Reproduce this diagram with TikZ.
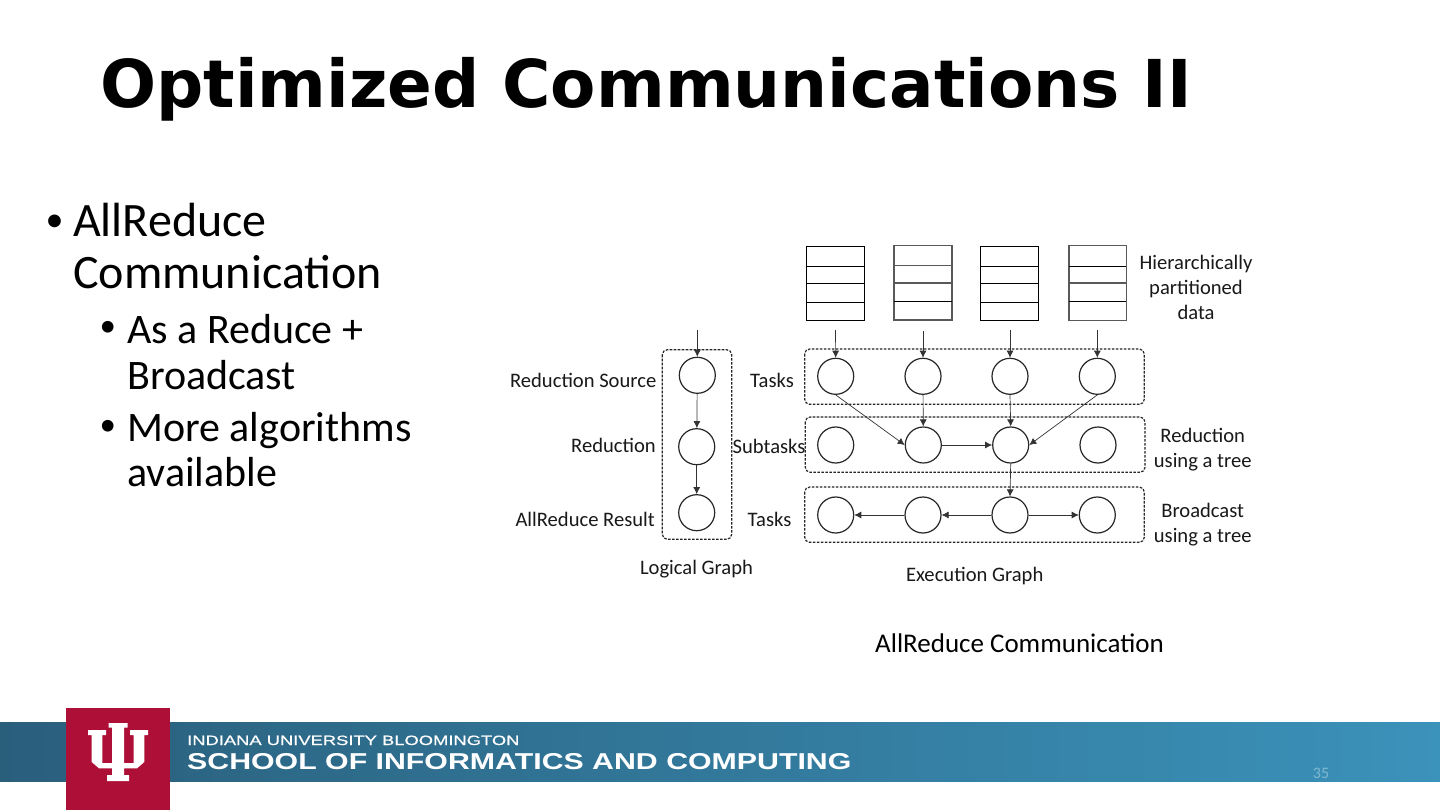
\documentclass[tikz,border=0pt]{standalone}
\usepackage{fontspec}
\setmainfont{Carlito}
\newfontfamily\titlefont{DejaVu Sans}
\newfontfamily\footfont[FakeStretch=1.32]{Liberation Sans}
\newfontfamily\footfonttop[FakeStretch=1.36,FakeBold=0.6]{Liberation Sans}
\usetikzlibrary{arrows.meta}
\definecolor{bandL}{HTML}{2A5F7C}
\definecolor{bandR}{HTML}{3B92BA}
\definecolor{iured}{HTML}{AE0F36}
\tikzset{
  x=1pt,y=-1pt,
  circ/.style={draw=black!85,line width=1.2pt,circle,minimum size=36pt,inner sep=0pt},
  dashbox/.style={draw=black!85,line width=1.2pt,dash pattern=on 2.6pt off 1.4pt,rounded corners=5pt},
  stackbox/.style={draw=black,line width=1.2pt},
  stackgray/.style={draw=black!65,line width=1.6pt},
  flow/.style={draw=black!80,line width=.7pt,-{Latex[length=7pt,width=7pt]}},
  lab/.style={inner sep=0pt,font=\fontsize{20.6}{24}\selectfont,anchor=center,text=black!90},
  big/.style={anchor=base west,inner sep=0pt,font=\fontsize{48}{48}\selectfont},
  mid/.style={anchor=base west,inner sep=0pt,font=\fontsize{42}{42}\selectfont},
  bigdot/.style={anchor=base west,inner sep=0pt,font=\fontsize{36}{36}\selectfont},
  middot/.style={anchor=base west,inner sep=0pt,font=\fontsize{33}{33}\selectfont},
}
\begin{document}
\begin{tikzpicture}
\useasboundingbox (0,0) rectangle (1440,810);
\fill[white] (0,0) rectangle (1440,810);
% title
\node[anchor=base west,inner sep=0pt,font=\titlefont\bfseries\fontsize{66}{70}\selectfont] (title) at (100,108) {Optimized Communications II};
% bullets
\node[bigdot] (b0) at (45.5,231.5) {•};
\node[big] (b1) at (73,237) {AllReduce};
\node[big] (b2) at (73,289) {Communication};
\node[middot] (c0) at (99.5,336.5) {•};
\node[mid] (c1) at (127,343) {As a Reduce +};
\node[mid] (c2) at (127,389) {Broadcast};
\node[middot] (d0) at (99.5,435) {•};
\node[mid] (d1) at (127,441) {More algorithms};
\node[mid] (d2) at (127,486) {available};
% stacks
\draw[stackbox] (806.3,246.3) rectangle (864.3,320.3);
\draw[stackbox] (806.3,266.3) -- (864.3,266.3) (806.3,283.3) -- (864.3,283.3) (806.3,302.3) -- (864.3,302.3);
\draw[stackgray] (893.7,245.7) rectangle (951.7,320);
\draw[stackgray] (893.7,265.7) -- (951.7,265.7) (893.7,283) -- (951.7,283);
\draw[stackbox] (893.7,301.7) -- (951.7,301.7);
\draw[stackbox] (980.7,246.3) rectangle (1038.7,320.3);
\draw[stackbox] (980.7,266.3) -- (1038.7,266.3) (980.7,283.3) -- (1038.7,283.3) (980.7,302.3) -- (1038.7,302.3);
\draw[stackgray] (1068.7,245.7) rectangle (1126.3,320.3);
\draw[stackbox] (1068.7,266.3) -- (1126.3,266.3) (1068.7,301.7) -- (1126.3,301.7);
\draw[stackgray] (1068.7,283) -- (1126.3,283);
% dashed groups
\draw[dashbox] (662.3,349.7) rectangle (731.7,539.3);
\draw[dashbox] (804.7,349) rectangle (1144.3,404.3);
\draw[dashbox] (805.3,417) rectangle (1145,472.3);
\draw[dashbox] (804.7,487) rectangle (1144.3,542.3);
% circles
\node[circ] (la) at (697.3,375.3) {};
\node[circ] (lb) at (696.7,446.7) {};
\node[circ] (lc) at (696.7,512.7) {};
\node[circ] (a1) at (835.7,376.3) {};
\node[circ] (a2) at (923,376.3) {};
\node[circ] (a3) at (1010,376.3) {};
\node[circ] (a4) at (1097.3,376.3) {};
\node[circ] (b1c) at (835.7,445) {};
\node[circ] (b2c) at (923.3,445) {};
\node[circ] (b3c) at (1010.7,445) {};
\node[circ] (b4c) at (1098,445) {};
\node[circ] (c1c) at (835.7,515) {};
\node[circ] (c2c) at (923,515) {};
\node[circ] (c3c) at (1010,515) {};
\node[circ] (c4c) at (1097.3,515) {};
% free ends
\coordinate (s0) at (697.3,330);
\coordinate (s1) at (835.5,330);
\coordinate (s2) at (923,331);
\coordinate (s3) at (1010,330);
\coordinate (s4) at (1097.3,330);
% connectors
\draw[flow] (s0) -- (la.north);
\draw[flow] (s1) -- (a1.north);
\draw[flow] (s2) -- (a2.north);
\draw[flow] (s3) -- (a3.north);
\draw[flow] (s4) -- (a4.north);
\draw[flow] (la) -- (lb);
\draw[flow] (lb) -- (lc);
\draw[flow] (a1.south) -- (b2c.west);
\draw[flow] (a2) -- (b2c);
\draw[flow] (a3.south) -- (b3c.north);
\draw[flow] (a4.south) -- (b3c.east);
\draw[flow] (b2c) -- (b3c);
\draw[flow] (b3c.south) -- (c3c.north);
\draw[flow] (c3c) -- (c2c);
\draw[flow] (c2c) -- (c1c);
\draw[flow] (c3c) -- (c4c);
% labels
\node[lab,anchor=east] (t1) at (656.5,380) {Reduction Source};
\node[lab,anchor=east] (t2) at (656,445) {Reduction};
\node[lab,anchor=east] (t3) at (655,519) {AllReduce Result};
\node[lab] (t4) at (772,380) {Tasks};
\node[lab] (t5) at (769,446) {Subtasks};
\node[lab] (t6) at (769.5,519) {Tasks};
\node[lab] (t7) at (696.5,569) {Logical Graph};
\node[lab] (t8) at (974.7,576) {Execution Graph};
\node[lab] (t9) at (1196,264.5) {Hierarchically};
\node[lab] (t10) at (1196,289) {partitioned};
\node[lab] (t11) at (1196,312.5) {data};
\node[lab] (t12) at (1202.7,435.5) {Reduction};
\node[lab] (t13) at (1202.7,462) {using a tree};
\node[lab] (t14) at (1202.7,510) {Broadcast};
\node[lab] (t15) at (1202.7,537.3) {using a tree};
\node[inner sep=0pt,font=\fontsize{27}{30}\selectfont] (cap) at (1019.5,643) {AllReduce Communication};
% footer band
\shade[left color=bandL,right color=bandR] (0,722.7) rectangle (1440,781);
\fill[iured] (66,708) rectangle (169.5,810);
\fill[white] (108.5,723) -- (127.5,723) -- (127.5,727.7) -- (124,727.7) -- (124,763) -- (133.7,763) -- (133.7,735) -- (130,735) -- (130,730) -- (148,730) -- (148,735) -- (144.3,735) -- (144.3,762) -- (137,768.3) -- (124,768.3) -- (124,775) -- (129,775) -- (129,781) -- (107,781) -- (107,775) -- (112,775) -- (112,768.3) -- (99,768.3) -- (91.7,762) -- (91.7,735) -- (88,735) -- (88,730) -- (106,730) -- (106,735) -- (102.3,735) -- (102.3,763) -- (112,763) -- (112,727.7) -- (108.5,727.7) -- cycle;
\node[anchor=base west,inner sep=0pt,text=white,font=\footfonttop\fontsize{13.5}{16}\selectfont] (f1) at (187,745) {INDIANA UNIVERSITY BLOOMINGTON};
\node[anchor=base west,inner sep=0pt,text=white,font=\footfont\bfseries\fontsize{22.95}{26}\selectfont] (f2) at (187,769) {SCHOOL OF INFORMATICS AND COMPUTING};
\node[inner sep=0pt,text=white!35!bandR,font=\fontsize{16}{18}\selectfont] (pg) at (1321,773) {35};
\end{tikzpicture}
\end{document}
